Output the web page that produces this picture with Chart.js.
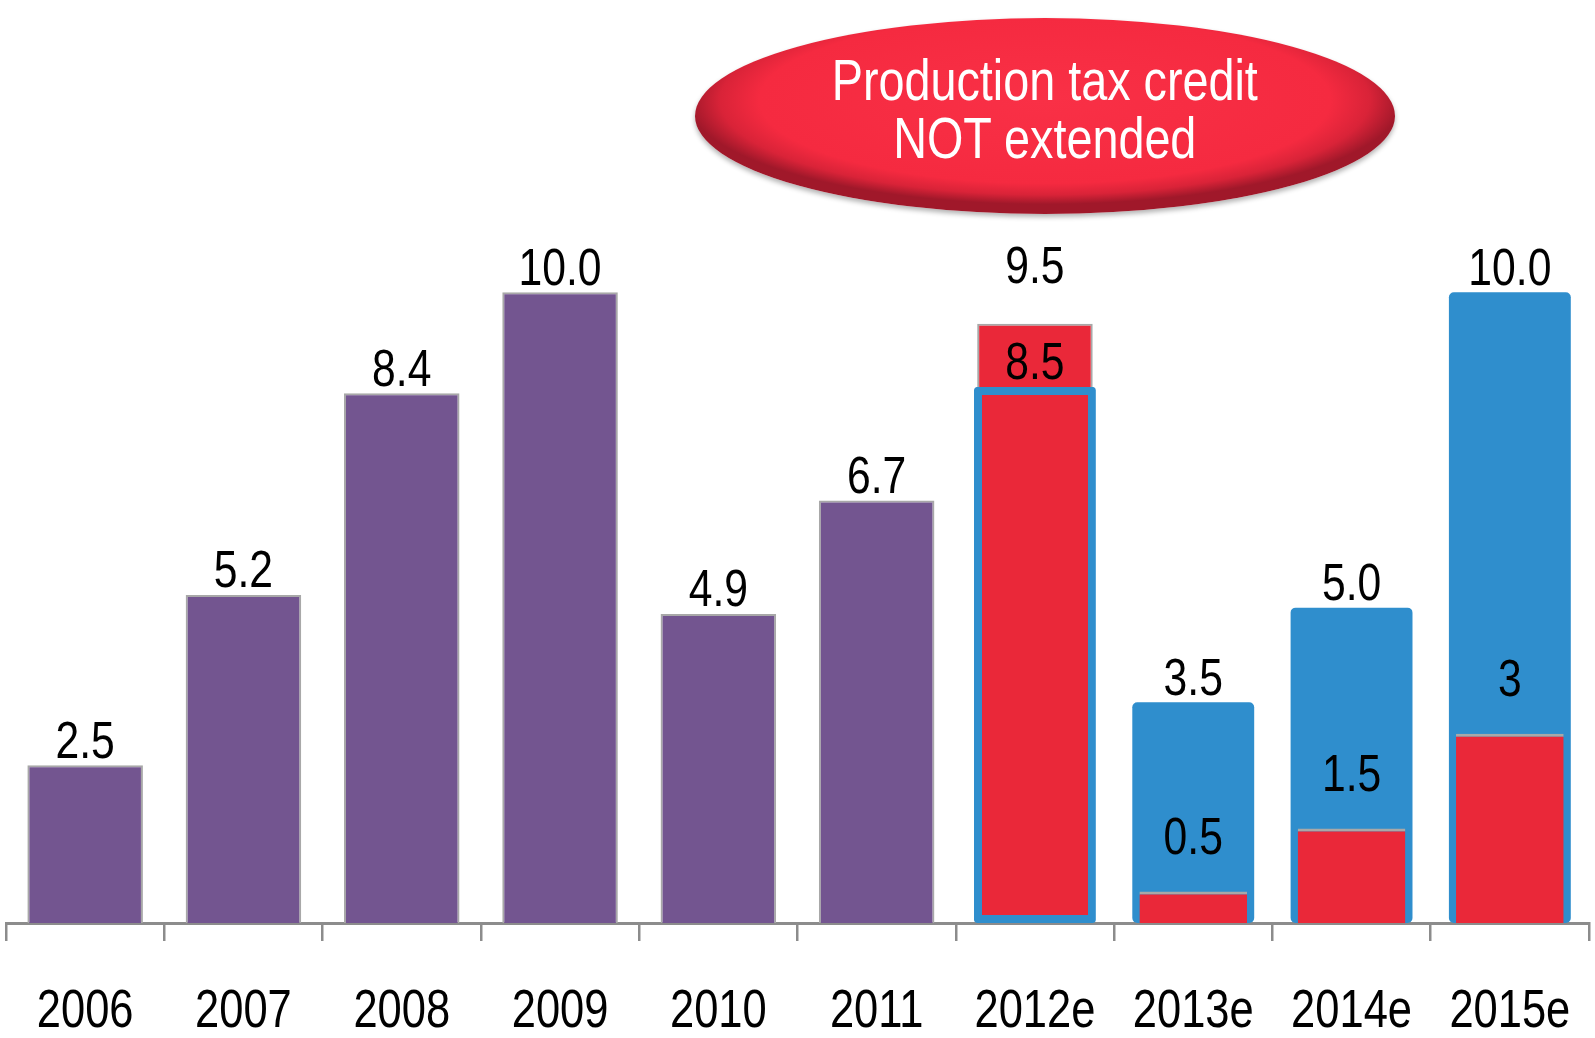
<!DOCTYPE html>
<html>
<head>
<meta charset="utf-8">
<script src="https://cdn.jsdelivr.net/npm/chart.js@4.4.0/dist/chart.umd.min.js"></script>
<style>
  html, body { margin: 0; padding: 0; background: #fff; }
  #wrap { position: relative; width: 1595px; height: 1038px; }
  #myChart { position: absolute; left: 0; top: 0; }
  .badge {
    position: absolute; left: 695px; top: 18px; width: 700px; height: 196px;
    border-radius: 50%;
    background: radial-gradient(ellipse 51% 53% at 50% 42%, #f93046 0%, #f52a40 80%, #d92338 91%, #a0182a 100%);
    box-shadow: 0 3px 5px rgba(0, 0, 0, 0.3);
    display: flex; align-items: center; justify-content: center;
    box-sizing: border-box; padding-bottom: 14px;
  }
  .badge div {
    color: #fff;
    font-family: "Liberation Sans", Arial, sans-serif;
    font-size: 57px; line-height: 58px; text-align: center; white-space: nowrap;
    transform: scaleX(0.82);
  }
</style>
</head>
<body>
<div id="wrap">
  <canvas id="myChart" width="1595" height="1038"></canvas>
  <div class="badge"><div>Production tax credit<br>NOT extended</div></div>
</div>
<script>
const years = ["2006", "2007", "2008", "2009", "2010", "2011", "2012e", "2013e", "2014e", "2015e"];
const actual = [2.5, 5.2, 8.4, 10.0, 4.9, 6.7, null, null, null, null];
const withPtc2012 = [null, null, null, null, null, null, 9.5, null, null, null];
const forecastTotal = [null, null, null, null, null, null, 8.5, 3.5, 5.0, 10.0];
const ptcPart = [null, null, null, null, null, null, null, 0.5, 1.5, 3];

const FONT = '"Liberation Sans", Arial, sans-serif';
const PURPLE = "#735590";
const RED = "#ea2839";
const BLUE = "#2f8ecd";
const EDGE = "#a8a8a8";
const NARROW = 0.82; // squeeze Liberation Sans to look like Arial Narrow

const narrowText = (ctx, txt, x, y) => {
  ctx.save();
  ctx.translate(x, y);
  ctx.scale(NARROW, 1);
  ctx.fillText(txt, 0, 0);
  ctx.restore();
};

const valueLabels = {
  id: "valueLabels",
  afterDatasetsDraw(chart) {
    const ctx = chart.ctx;
    ctx.save();
    ctx.font = "52px " + FONT;
    ctx.fillStyle = "#000";
    ctx.textAlign = "center";
    ctx.textBaseline = "middle";
    chart.data.datasets.forEach((ds, i) => {
      const meta = chart.getDatasetMeta(i);
      meta.data.forEach((bar, j) => {
        const v = ds.data[j];
        if (v == null) return;
        const txt = ds.plainLabel ? String(v) : v.toFixed(1);
        narrowText(ctx, txt, bar.x, bar.y - ds.labelOffset);
      });
    });
    // category labels under the axis, placed by the x scale
    const xs = chart.scales.x;
    ctx.font = "53px " + FONT;
    chart.data.labels.forEach((lab, i) => {
      narrowText(ctx, lab, xs.getPixelForValue(i), xs.top + 89);
    });
    ctx.restore();
  }
};

const renderChart = () => {
  const ctx = document.getElementById("myChart");
  new Chart(ctx, {
    type: "bar",
    data: {
      labels: years,
      datasets: [
        {
          data: ptcPart,
          backgroundColor: RED,
          borderColor: EDGE,
          borderWidth: { top: 3, left: 0, right: 0, bottom: 0 },
          borderSkipped: false,
          barPercentage: 0.68,
          categoryPercentage: 1,
          grouped: false,
          order: 0,
          labelOffset: 52,
          plainLabel: true,
        },
        {
          data: forecastTotal,
          backgroundColor: (c) => (c.dataIndex === 6 ? RED : BLUE),
          borderColor: BLUE,
          borderWidth: (c) => (c.dataIndex === 6 ? 8 : 0),
          borderRadius: (c) => (c.dataIndex === 6 ? 3 : 5),
          borderSkipped: false,
          barPercentage: 0.77,
          categoryPercentage: 1,
          grouped: false,
          order: 1,
          labelOffset: 22,
        },
        {
          data: withPtc2012,
          backgroundColor: RED,
          borderColor: EDGE,
          borderWidth: { top: 2, left: 2, right: 2, bottom: 0 },
          borderSkipped: false,
          barPercentage: 0.73,
          categoryPercentage: 1,
          grouped: false,
          order: 2,
          labelOffset: 55,
        },
        {
          data: actual,
          backgroundColor: PURPLE,
          borderColor: EDGE,
          borderWidth: { top: 2, left: 2, right: 2, bottom: 0 },
          borderSkipped: false,
          barPercentage: 0.73,
          categoryPercentage: 1,
          grouped: false,
          order: 3,
          labelOffset: 22,
        },
      ],
    },
    options: {
      responsive: false,
      animation: false,
      layout: { padding: { left: 6, right: 6, top: 40, bottom: 97 } },
      plugins: {
        legend: { display: false },
        tooltip: { enabled: false },
      },
      scales: {
        x: {
          grid: {
            display: true,
            offset: true,
            drawOnChartArea: false,
            drawTicks: true,
            tickLength: 18,
            color: "#8c8c8c",
            lineWidth: 2.5,
          },
          border: { display: true, color: "#8c8c8c", width: 3 },
          ticks: { display: false },
        },
        y: { display: false, min: 0, max: 14 },
      },
    },
    plugins: [valueLabels],
  });
};

renderChart();
</script>
</body>
</html>
